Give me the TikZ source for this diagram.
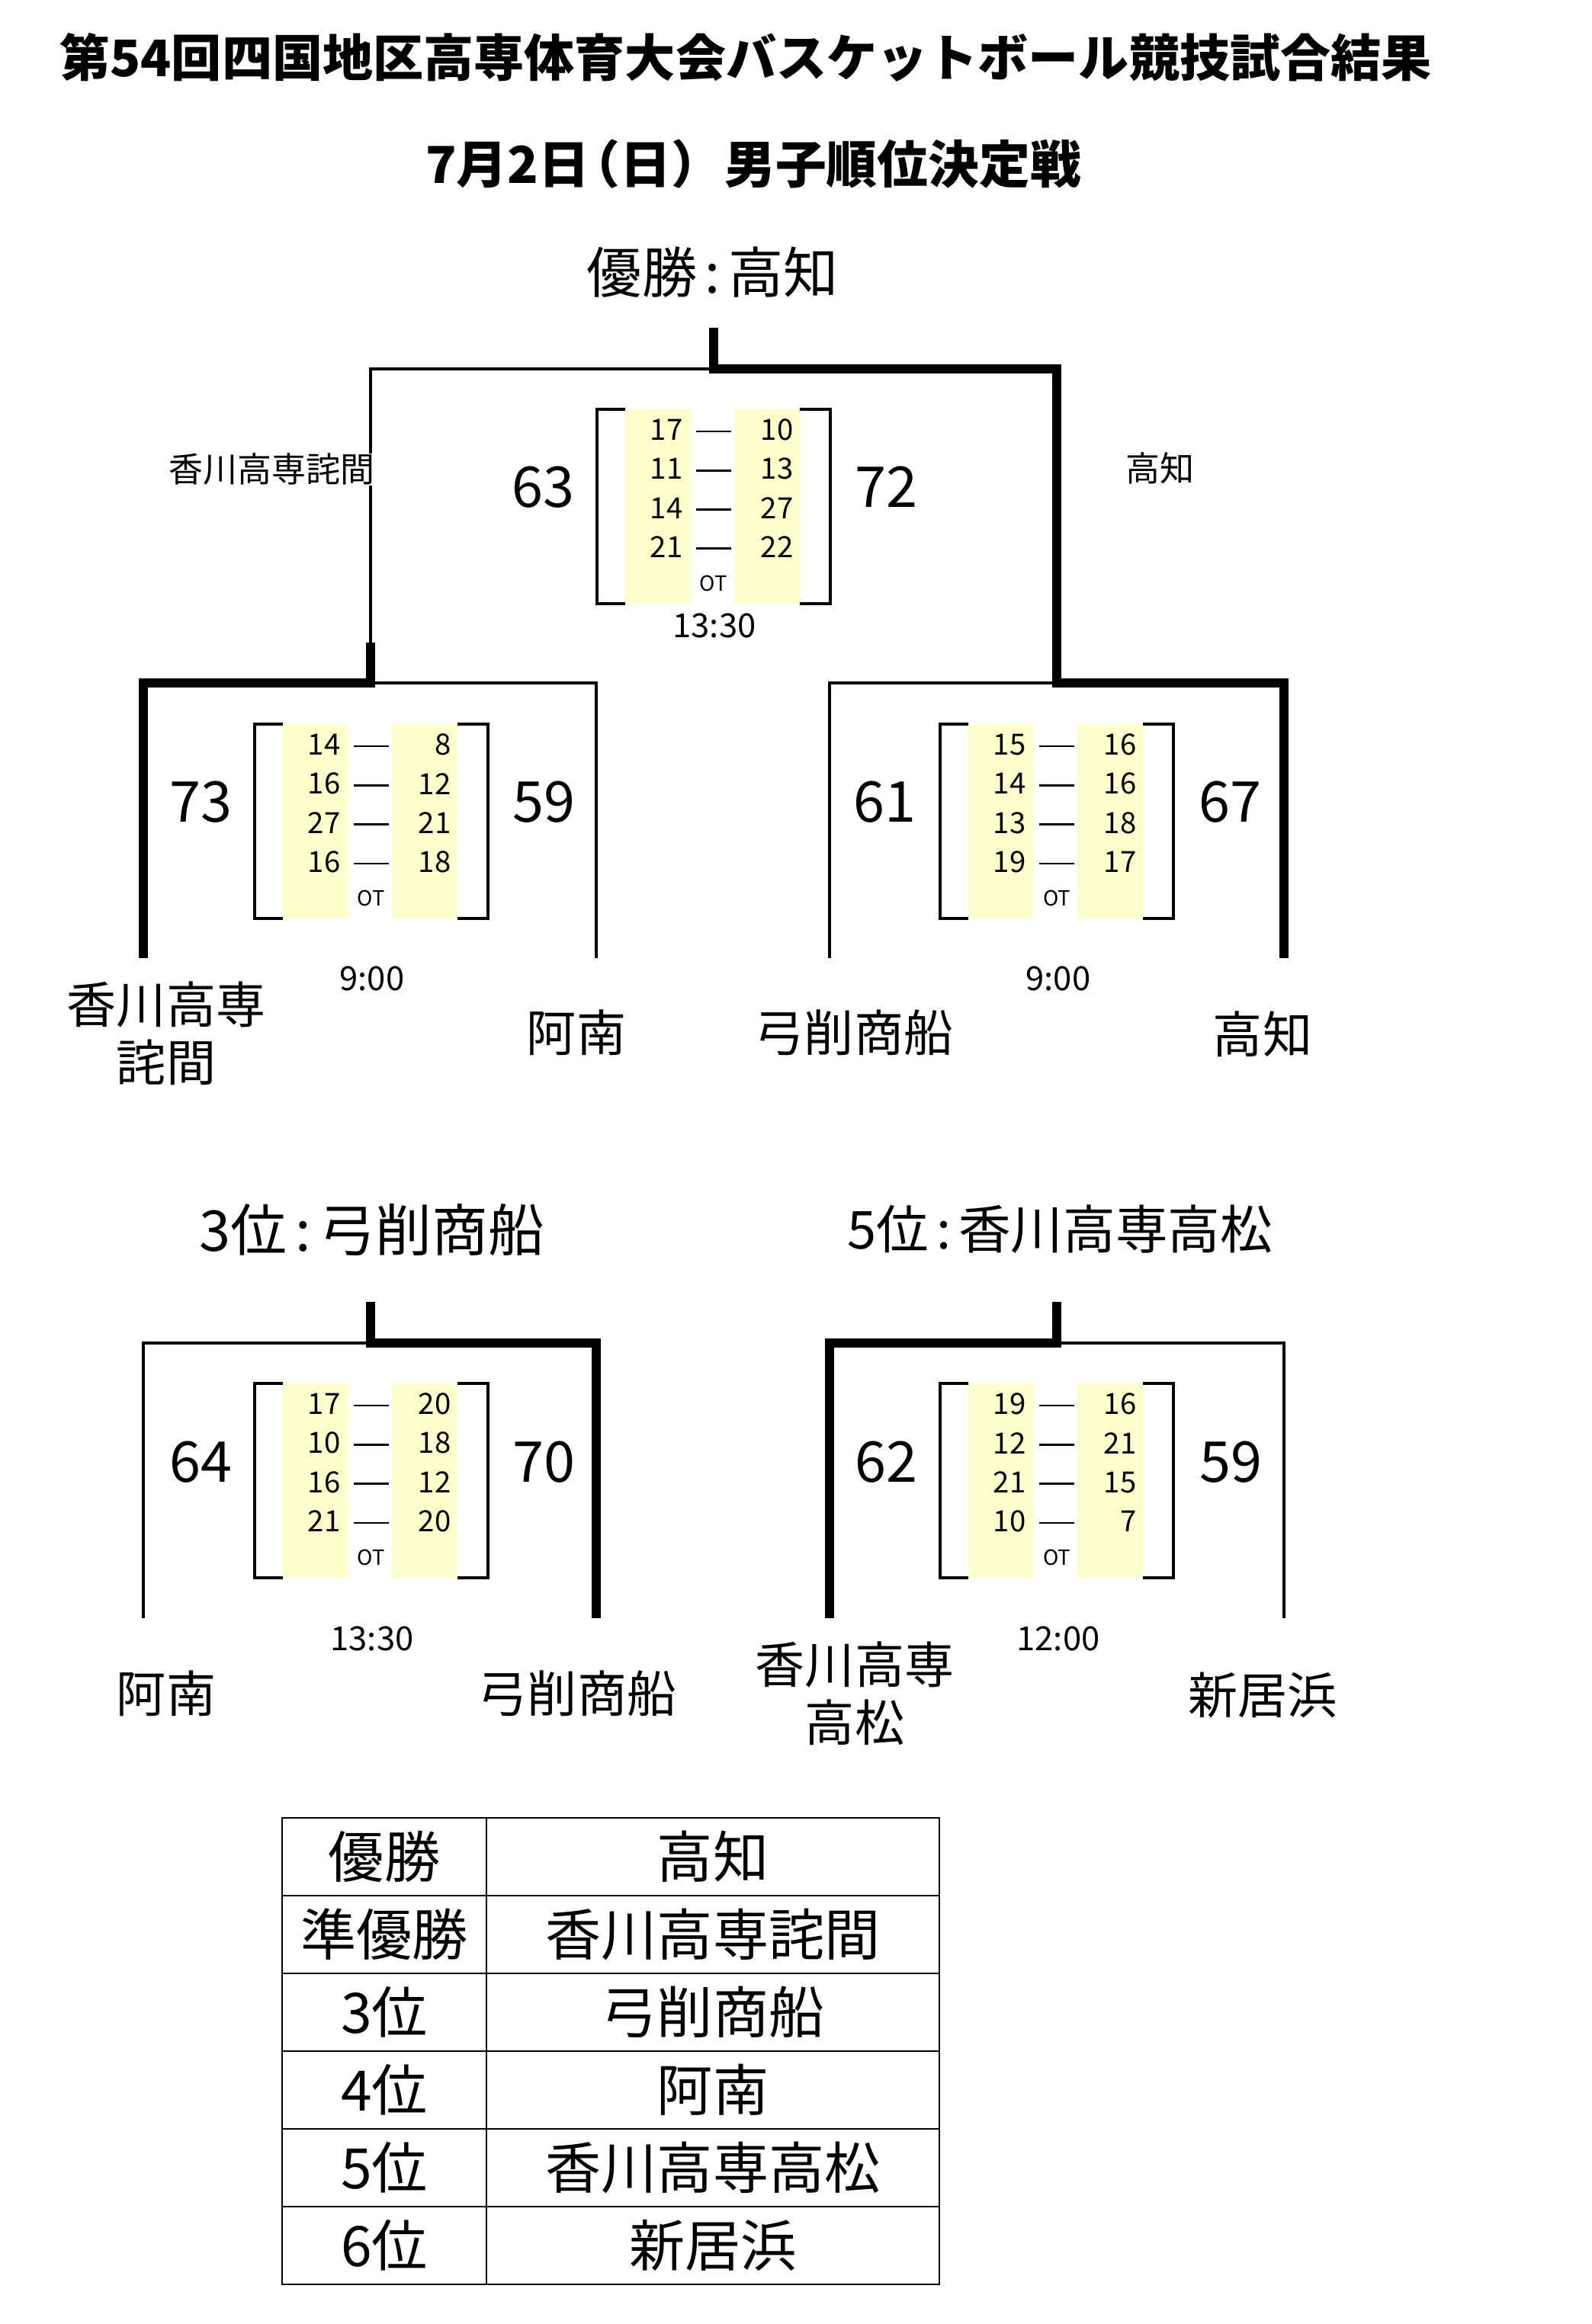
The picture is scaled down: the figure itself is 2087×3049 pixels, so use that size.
\documentclass[tikz,border=0pt]{standalone}
\usepackage{fontspec}
\setmainfont{Noto Sans CJK JP}
\definecolor{qtrcol}{HTML}{FFFFCC}

% one game: name, centre x, top y, quarter scores
\newcommand{\gamebox}[4]{%
  \fill[qtrcol] (#2-116,#3) rectangle (#2-30,#3+255);
  \fill[qtrcol] (#2+27,#3) rectangle (#2+113,#3+255);
  \draw[brk] (#2-116,#3) -- (#2-153,#3) -- (#2-153,#3+255) -- (#2-116,#3+255);
  \draw[brk] (#2+113,#3) -- (#2+153,#3) -- (#2+153,#3+255) -- (#2+113,#3+255);
  \foreach \p/\q [count=\i] in {#4} {
    \pgfmathsetmacro\rowy{#3+27+51.3*(\i-1)}
    \node[qtr] (#1l\i) at (#2-40,\rowy) {\p};
    \node[qtr] (#1r\i) at (#2+105,\rowy) {\q};
    \draw[qdash] (#2-23,\rowy+2) -- (#2+23,\rowy+2);
  }
  \node[ot] (#1ot) at (#2,#3+228) {OT};
}

\begin{document}
\begin{tikzpicture}[x=0.01cm,y=-0.01cm,
  loseline/.style={line width=1.15pt},
  winline/.style={line width=3.4pt},
  brk/.style={line width=1.2pt},
  qdash/.style={line width=0.8pt},
  tbl/.style={line width=0.5pt},
  qtr/.style={anchor=east,inner sep=0pt,font=\fontsize{10.9}{12}\selectfont},
  ot/.style={inner sep=0pt,font=\fontsize{7.8}{9}\selectfont},
  big/.style={inner sep=0pt,font=\fontsize{21}{24}\selectfont},
  clock/.style={inner sep=0pt,font=\fontsize{12.4}{14}\selectfont},
  team/.style={inner sep=0pt,align=center,font=\fontsize{18.5}{21.5}\selectfont},
  finteam/.style={inner sep=0pt,fill=white,font=\fontsize{12.8}{14}\selectfont},
  head/.style={inner sep=0pt,font=\fontsize{19.5}{22}\selectfont},
  tabtxt/.style={inner sep=0pt,font=\fontsize{20.8}{24}\selectfont}]
\useasboundingbox (0,0) rectangle (2087,3049);

% headings
\node[inner sep=0pt,font=\bfseries\fontsize{18.8}{22}\selectfont] (title) at (978,75) {第54回四国地区高専体育大会バスケットボール競技試合結果};
\node[inner sep=0pt,font=\bfseries\fontsize{19}{22}\selectfont] (subtitle) at (988,215) {7月2日\kern-.4em（日）\kern.05em男子順位決定戦};
\node[head,font=\fontsize{20.5}{23}\selectfont] (champ) at (935,357) {優勝\kern.15em:\kern.15em高知};

% final and semifinals
\coordinate (cF) at (936,430); \coordinate (jF) at (936,484);
\coordinate (kA) at (486,843);
\coordinate (jA) at (486,896); \coordinate (jB) at (1386,896);
\coordinate (tA1) at (188,1257); \coordinate (tA2) at (782,1257);
\coordinate (tB1) at (1088,1257); \coordinate (tB2) at (1684,1257);
\draw[loseline] (kA) |- (jF);
\draw[loseline] (tA2) |- (jA);
\draw[loseline] (tB1) |- (jB);
\draw[winline] (tA1) |- (jA) -- (kA);
\draw[winline] (tB2) |- (jB) |- (jF) -- (cF);

\node[finteam,anchor=east] (finA) at (492,616) {香川高専詫間};
\node[finteam] (finB) at (1521,614) {高知};

\gamebox{fin}{936}{537}{17/10,11/13,14/27,21/22}
\node[big] (finsA) at (712,639) {63};
\node[big] (finsB) at (1162,639) {72};
\node[clock] (fintime) at (937,821) {13:30};

\gamebox{sfa}{487}{950}{14/8,16/12,27/21,16/18}
\node[big] (sfasA) at (263,1052) {73};
\node[big] (sfasB) at (713,1052) {59};
\node[clock] (sfatime) at (488,1284) {9:00};

\gamebox{sfb}{1386}{950}{15/16,14/16,13/18,19/17}
\node[big] (sfbsA) at (1160,1052) {61};
\node[big] (sfbsB) at (1613,1052) {67};
\node[clock] (sfbtime) at (1388,1284) {9:00};

\node[team] (teamA1) at (218,1356) {香川高専\\詫間};
\node[team] (teamA2) at (756,1355) {阿南};
\node[team] (teamB1) at (1120,1355) {弓削商船};
\node[team] (teamB2) at (1656,1357) {高知};

% 3rd and 5th place
\node[head,font=\fontsize{21}{24}\selectfont] (third) at (488,1613) {3位\kern.15em:\kern.15em弓削商船};
\node[head] (fifth) at (1390,1613) {5位\kern.15em:\kern.15em香川高専高松};
\coordinate (cC) at (486,1708); \coordinate (jC) at (486,1762);
\coordinate (cD) at (1386,1708); \coordinate (jD) at (1386,1762);
\coordinate (tC1) at (188,2123); \coordinate (tC2) at (782,2123);
\coordinate (tD1) at (1088,2123); \coordinate (tD2) at (1684,2123);
\draw[loseline] (tC1) |- (jC);
\draw[winline] (tC2) |- (jC) -- (cC);
\draw[winline] (tD1) |- (jD) -- (cD);
\draw[loseline] (tD2) |- (jD);

\gamebox{thd}{487}{1815}{17/20,10/18,16/12,21/20}
\node[big] (thdsA) at (263,1918) {64};
\node[big] (thdsB) at (713,1918) {70};
\node[clock] (thdtime) at (488,2150) {13:30};

\gamebox{fif}{1386}{1815}{19/16,12/21,21/15,10/7}
\node[big] (fifsA) at (1162,1918) {62};
\node[big] (fifsB) at (1614,1918) {59};
\node[clock] (fiftime) at (1388,2150) {12:00};

\node[team] (teamC1) at (218,2222) {阿南};
\node[team] (teamC2) at (757,2222) {弓削商船};
\node[team] (teamD1) at (1121,2222) {香川高専\\高松};
\node[team] (teamD2) at (1656,2224) {新居浜};

% final standings
\draw[tbl] (370,2385) rectangle (1232,2997);
\draw[tbl] (638,2385) -- (638,2997);
\foreach \k in {1,...,5} \draw[tbl] (370,2385+102*\k) -- (1232,2385+102*\k);
\foreach \r/\t [count=\k] in {優勝/高知,準優勝/香川高専詫間,3位/弓削商船,4位/阿南,5位/香川高専高松,6位/新居浜} {
  \node[tabtxt] (rank\k) at (504,2334+102*\k) {\r};
  \node[tabtxt] (school\k) at (935,2334+102*\k) {\t};
}
\end{tikzpicture}
\end{document}
